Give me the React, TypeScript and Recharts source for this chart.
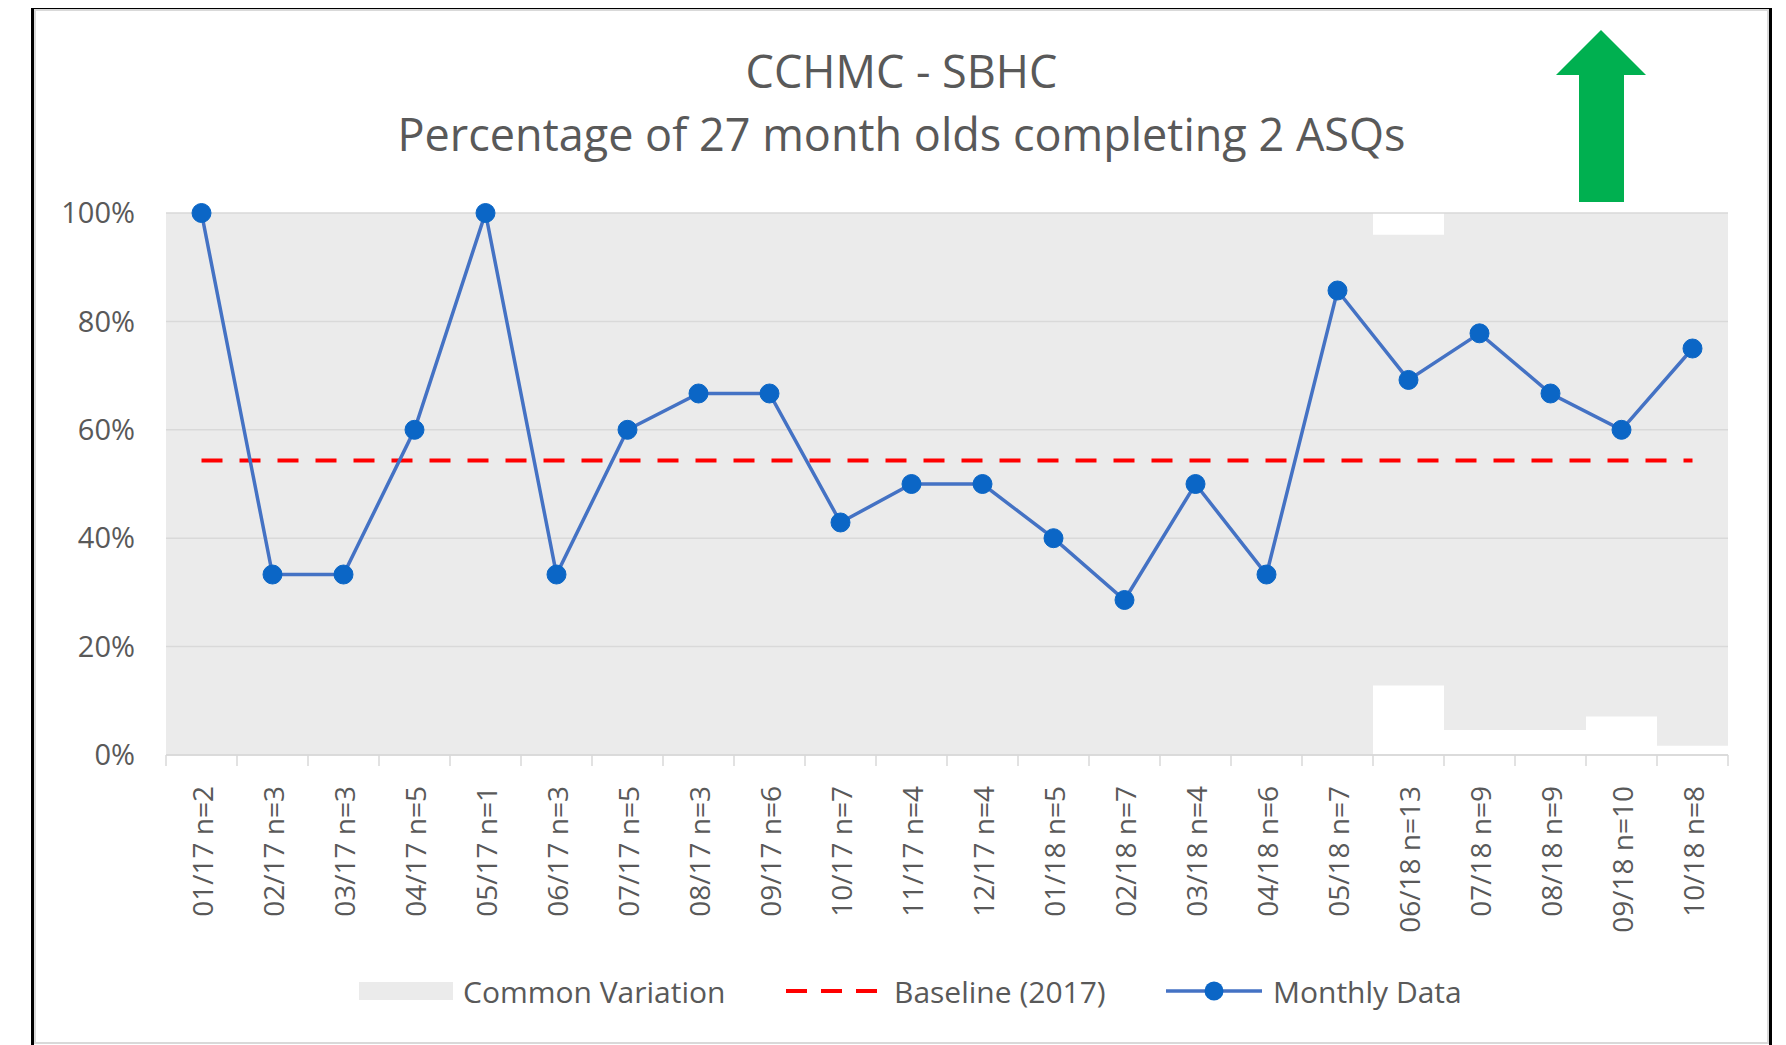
import React from 'react';
import {
  ComposedChart,
  Bar,
  Line,
  XAxis,
  YAxis,
  CartesianGrid,
  ReferenceLine,
} from 'recharts';

// months with sample size, as shown under the axis
const months = [
  '01/17 n=2', '02/17 n=3', '03/17 n=3', '04/17 n=5', '05/17 n=1', '06/17 n=3',
  '07/17 n=5', '08/17 n=3', '09/17 n=6', '10/17 n=7', '11/17 n=4', '12/17 n=4',
  '01/18 n=5', '02/18 n=7', '03/18 n=4', '04/18 n=6', '05/18 n=7', '06/18 n=13',
  '07/18 n=9', '08/18 n=9', '09/18 n=10', '10/18 n=8',
];

const monthly = [
  1.0, 0.333, 0.333, 0.6, 1.0, 0.333, 0.6, 0.667, 0.667, 0.429, 0.5, 0.5,
  0.4, 0.286, 0.5, 0.333, 0.857, 0.692, 0.778, 0.667, 0.6, 0.75,
];

// common variation band (lower / upper limits)
const lowerLimit = [
  0, 0, 0, 0, 0, 0, 0, 0, 0, 0, 0, 0,
  0, 0, 0, 0, 0, 0.128, 0.046, 0.046, 0.071, 0.017,
];
const upperLimit = [
  1, 1, 1, 1, 1, 1, 1, 1, 1, 1, 1, 1,
  1, 1, 1, 1, 1, 0.96, 1, 1, 1, 1,
];

const BASELINE = 0.5435;
const yTicks = [0, 0.2, 0.4, 0.6, 0.8, 1];

const data = months.map((m, i) => ({
  name: m,
  band: [lowerLimit[i], upperLimit[i]],
  monthly: monthly[i],
}));

const FONT = '"Open Sans", "Noto Sans", sans-serif';
const TEXT = '#595959';
const GRID = '#d9d9d9';

const XTick = (props: any) => {
  const { x, y, payload, index } = props;
  const half = payload && payload.offset ? payload.offset : 35.5;
  const axisY = y - 31;
  return (
    <g>
      <line x1={x - half} y1={axisY} x2={x - half} y2={axisY + 11} stroke={GRID} strokeWidth={1.5} />
      {index === months.length - 1 && (
        <line x1={x + half} y1={axisY} x2={x + half} y2={axisY + 11} stroke={GRID} strokeWidth={1.5} />
      )}
      <text
        x={x}
        y={y}
        transform={`rotate(-90 ${x} ${y})`}
        textAnchor="end"
        dominantBaseline="central"
        fill={TEXT}
        fontSize={28}
        fontFamily={FONT}
      >
        {payload.value}
      </text>
    </g>
  );
};

const App: React.FC = () => {
  return (
    <div
      style={{
        position: 'relative',
        width: 1786,
        height: 1045,
        margin: '-8px 0 0 -8px',
        background: '#fff',
        overflow: 'hidden',
        fontFamily: FONT,
      }}
    >
      <div
        style={{
          position: 'absolute',
          left: 31,
          top: 6,
          width: 1741,
          height: 1060,
          boxSizing: 'border-box',
          borderLeft: '3px solid #000',
          borderTop: '3px solid #000',
          borderRight: '3px solid #000',
        }}
      />
      <div
        style={{
          position: 'absolute',
          left: 34,
          top: 9,
          width: 1735,
          height: 1035,
          boxSizing: 'border-box',
          border: '2px solid #d9d9d9',
        }}
      />

      <div
        style={{
          position: 'absolute',
          left: 31,
          width: 1741,
          top: 45,
          textAlign: 'center',
          color: TEXT,
          fontSize: 45,
          lineHeight: '52px',
        }}
      >
        CCHMC - SBHC
      </div>
      <div
        style={{
          position: 'absolute',
          left: 31,
          width: 1741,
          top: 108,
          textAlign: 'center',
          color: TEXT,
          fontSize: 45,
          lineHeight: '52px',
        }}
      >
        Percentage of 27 month olds completing 2 ASQs
      </div>

      <svg style={{ position: 'absolute', left: 0, top: 0 }} width={1786} height={1045}>
        <polygon
          points="1601,30 1646,75 1624,75 1624,202 1579,202 1579,75 1556,75"
          fill="#00b050"
        />
      </svg>

      <div style={{ position: 'absolute', left: 0, top: 0 }}>
        <ComposedChart
          width={1786}
          height={1045}
          data={data}
          margin={{ top: 213, right: 58, bottom: 120, left: 46 }}
          barCategoryGap={0}
          barGap={0}
        >
          <XAxis
            dataKey="name"
            interval={0}
            height={170}
            tickSize={0}
            tickMargin={31}
            tickLine={false}
            axisLine={{ stroke: GRID, strokeWidth: 1.5 }}
            tick={<XTick />}
          />
          <YAxis
            domain={[0, 1]}
            ticks={yTicks}
            width={120}
            tickSize={0}
            tickMargin={31}
            axisLine={false}
            tickLine={false}
            tickFormatter={(v: number) => `${Math.round(v * 100)}%`}
            tick={{ fill: TEXT, fontSize: 29, fontFamily: FONT }}
          />
          <Bar dataKey="band" fill="#ebebeb" isAnimationActive={false} />
          <CartesianGrid vertical={false} stroke={GRID} strokeWidth={1.5} zIndex={350} />
          <ReferenceLine
            segment={[
              { x: months[0], y: BASELINE },
              { x: months[months.length - 1], y: BASELINE },
            ]}
            stroke="#ff0000"
            strokeWidth={4}
            strokeDasharray="21 17"
          />
          <Line
            dataKey="monthly"
            stroke="#4472c4"
            strokeWidth={3.5}
            dot={{ r: 9.5, fill: '#0b66c6', stroke: '#0b66c6', strokeWidth: 1 }}
            isAnimationActive={false}
          />
        </ComposedChart>
      </div>

      <svg style={{ position: 'absolute', left: 0, top: 0 }} width={1786} height={1045}>
        <rect x={359} y={982} width={94} height={18} fill="#ebebeb" />
        <text x={463} y={991} dominantBaseline="central" fill={TEXT} fontSize={30} fontFamily={FONT}>
          Common Variation
        </text>
        <line x1={786} y1={991} x2={879} y2={991} stroke="#ff0000" strokeWidth={4} strokeDasharray="21 14" />
        <text x={894} y={991} dominantBaseline="central" fill={TEXT} fontSize={30} fontFamily={FONT}>
          Baseline (2017)
        </text>
        <line x1={1166} y1={991} x2={1262} y2={991} stroke="#4472c4" strokeWidth={3.5} />
        <circle cx={1214} cy={991} r={9.5} fill="#0b66c6" />
        <text x={1273} y={991} dominantBaseline="central" fill={TEXT} fontSize={30} fontFamily={FONT}>
          Monthly Data
        </text>
      </svg>
    </div>
  );
};

export default App;
